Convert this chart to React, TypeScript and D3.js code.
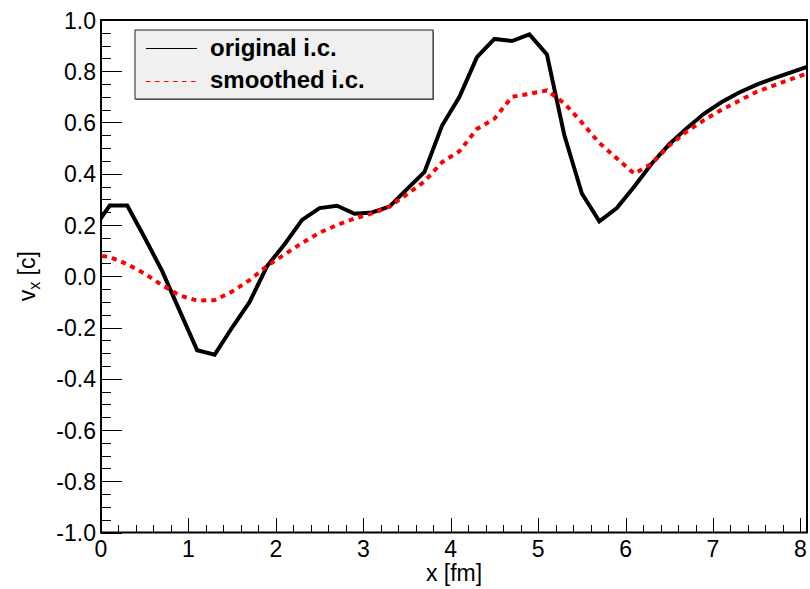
import React from "react";
import * as d3 from "d3";

const xGrid = [-0.1, 0.1, 0.3, 0.5, 0.7, 0.9, 1.1, 1.3, 1.5, 1.7, 1.9, 2.1, 2.3, 2.5, 2.7, 2.9, 3.1, 3.3, 3.5, 3.7, 3.9, 4.1, 4.3, 4.5, 4.7, 4.9, 5.1, 5.3, 5.5, 5.7, 5.9, 6.1, 6.3, 6.5, 6.7, 6.9, 7.1, 7.3, 7.5, 7.7, 7.9, 8.1];
const originalIC = [0.178, 0.276, 0.276, 0.15, 0.02, -0.135, -0.289, -0.306, -0.2, -0.1, 0.04, 0.125, 0.22, 0.266, 0.275, 0.244, 0.249, 0.272, 0.34, 0.407, 0.587, 0.70, 0.855, 0.926, 0.918, 0.944, 0.866, 0.55, 0.323, 0.214, 0.266, 0.35, 0.44, 0.515, 0.578, 0.635, 0.68, 0.717, 0.748, 0.773, 0.797, 0.82];
const smoothedIC = [0.085, 0.075, 0.047, 0.01, -0.035, -0.075, -0.095, -0.093, -0.06, -0.015, 0.04, 0.085, 0.13, 0.17, 0.2, 0.225, 0.245, 0.272, 0.32, 0.37, 0.445, 0.488, 0.575, 0.615, 0.70, 0.712, 0.725, 0.675, 0.60, 0.52, 0.46, 0.40, 0.44, 0.51, 0.565, 0.61, 0.65, 0.685, 0.72, 0.745, 0.77, 0.795];
const xTicks = [0, 1, 2, 3, 4, 5, 6, 7, 8];
const yTicks = [-1.0, -0.8, -0.6, -0.4, -0.2, 0.0, 0.2, 0.4, 0.6, 0.8, 1.0];
const legendLabels = ["original i.c.", "smoothed i.c."];

const W = 810, H = 589;
const L = 101, R = 807, T = 20, B = 532.5;
const FONT = "'Liberation Sans', Arial, Helvetica, sans-serif";

export default function App() {
  const x = d3.scaleLinear().domain([0, 8.075]).range([L, R]);
  const y = d3.scaleLinear().domain([-1, 1]).range([B, T]);
  const line = d3.line<number>().x((_, i) => x(xGrid[i])).y((d) => y(d));

  const xMinor = d3.range(0, 8.07, 0.2);
  const yMinor = d3.range(-1, 1.0001, 0.05);

  return (
    <svg width={W} height={H} style={{ position: "absolute", left: 0, top: 0, background: "#fff" }}>
      <defs>
        <clipPath id="frame">
          <rect x={L} y={T} width={R - L} height={B - T} />
        </clipPath>
      </defs>
      <rect x={0} y={0} width={W} height={H} fill="#fff" />
      <g clipPath="url(#frame)">
        <path d={line(originalIC) || ""} fill="none" stroke="#000" strokeWidth={4} strokeLinejoin="miter" />
        <path d={line(smoothedIC) || ""} fill="none" stroke="#ff0000" strokeWidth={4} strokeDasharray="5,5" />
      </g>
      {/* frame */}
      <rect x={L} y={T} width={R - L} height={B - T} fill="none" stroke="#000" strokeWidth={2} />
      {/* x ticks */}
      {xMinor.map((v, i) => {
        const major = Math.abs(v - Math.round(v)) < 1e-6;
        const px = Math.round(x(v)) + 0.5;
        return <line key={"xm" + i} x1={px} x2={px} y1={B} y2={B - (major ? 14.5 : 7.5)} stroke="#000" strokeWidth={1} />;
      })}
      {xTicks.map((v) => (
        <text key={"xt" + v} x={x(v)} y={557} textAnchor="middle" fontFamily={FONT} fontSize={23}>{v}</text>
      ))}
      {/* y ticks */}
      {yMinor.map((v, i) => {
        const major = Math.abs(v * 5 - Math.round(v * 5)) < 1e-6;
        const py = Math.round(y(v)) + 0.5;
        return <line key={"ym" + i} x1={L} x2={L + (major ? 21 : 10)} y1={py} y2={py} stroke="#000" strokeWidth={1} />;
      })}
      {yTicks.map((v) => (
        <text key={"yt" + v} x={96} y={y(v) + 8.5} textAnchor="end" fontFamily={FONT} fontSize={23}>{v.toFixed(1)}</text>
      ))}
      {/* axis titles */}
      <text x={(L + R) / 2} y={581} textAnchor="middle" fontFamily={FONT} fontSize={23}>x [fm]</text>
      <text transform={`translate(35,${(T + B) / 2}) rotate(-90)`} textAnchor="middle" fontFamily={FONT} fontSize={23}>
        v<tspan fontSize={16} dy={5}>x</tspan><tspan dy={-5}> [c]</tspan>
      </text>
      {/* legend */}
      <rect x={136} y={31} width={298} height={69} fill="#777" />
      <rect x={135} y={30} width={298} height={69} fill="#f0f0f0" stroke="#222" strokeWidth={1} />
      <line x1={146} x2={197} y1={48.5} y2={48.5} stroke="#000" strokeWidth={1} />
      <line x1={146} x2={197} y1={81.5} y2={81.5} stroke="#ff0000" strokeWidth={1} strokeDasharray="4.5,4.5" />
      <text x={210} y={56} fontFamily={FONT} fontWeight="bold" fontSize={24}>{legendLabels[0]}</text>
      <text x={210} y={88} fontFamily={FONT} fontWeight="bold" fontSize={24}>{legendLabels[1]}</text>
    </svg>
  );
}
